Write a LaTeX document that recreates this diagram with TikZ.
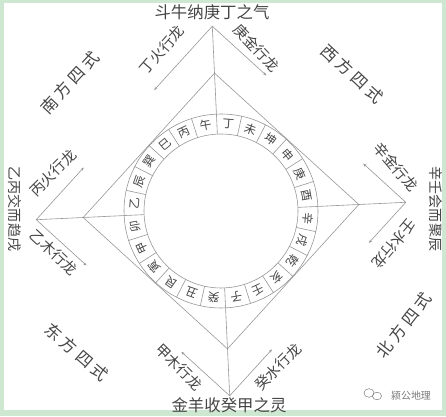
\documentclass[tikz,border=0pt]{standalone}
\usepackage{fontspec}
\newfontfamily\cjk{Noto Sans CJK SC}
\newfontfamily\cjkwide[LetterSpace=25]{Noto Sans CJK SC}
\usetikzlibrary{arrows.meta,%
                calc,positioning}
\definecolor{linegray}{RGB}{150,150,150}
\definecolor{inkgray}{RGB}{70,70,70}
\definecolor{markgray}{RGB}{120,120,120}
\definecolor{framegreen}{RGB}{206,231,208}

\begin{document}
\begin{tikzpicture}[x = 0.03cm, y = 0.03cm]
  \tikzset{LineStyle/.style    = {draw           = linegray,
                                  line width     = 0.5pt}}
  \tikzset{ArrowStyle/.style   = {LineStyle,
                                  -{Stealth[length = 3pt, width = 2.2pt]}}}
  \tikzset{RingStyle/.style    = {font           = \cjk\fontsize{10}{11}\selectfont,
                                  text           = inkgray,
                                  inner sep      = 0pt}}
  \tikzset{LabelStyle/.style   = {font           = \cjk\fontsize{12.5}{13}\selectfont,
                                  text           = inkgray,
                                  inner sep      = 1pt}}
  \tikzset{QuarterStyle/.style = {font           = \cjkwide\fontsize{14}{15}\selectfont,
                                  text           = inkgray,
                                  inner sep      = 1pt}}
  \tikzset{TitleStyle/.style   = {font           = \cjk\fontsize{14}{15}\selectfont,
                                  text           = inkgray,
                                  inner sep      = 1pt}}
  \tikzset{SideStyle/.style    = {font           = \cjk\fontsize{12}{13}\selectfont,
                                  text           = inkgray,
                                  inner sep      = 1pt}}
  \tikzset{MarkStyle/.style    = {font           = \cjk\fontsize{8.5}{9}\selectfont,
                                  text           = markgray,
                                  inner sep      = 0pt}}
  % frame
  \fill[framegreen] (0,0) rectangle (446,416);
  \fill[white] (4,6) rectangle (442,413);
  \useasboundingbox (0,0) rectangle (446,416);
  % compass, a little tilted
  \begin{scope}[shift = {(221,205)}, rotate = 2.7]
     \coordinate (O) at (0,0);
     \coordinate (Top)     at (90:185);
     \coordinate (Left)    at (180:185);
     \coordinate (Bottom)  at (270:185);
     \coordinate (Right)   at (0:185);
     \coordinate (iTop)    at (90:138);
     \coordinate (iLeft)   at (180:138);
     \coordinate (iBottom) at (270:138);
     \coordinate (iRight)  at (0:138);
     \coordinate (rTop)    at (90:97);
     \coordinate (rLeft)   at (180:97);
     \coordinate (rBottom) at (270:97);
     \coordinate (rRight)  at (0:97);
     \draw[LineStyle] (O) circle (97);
     \draw[LineStyle] (O) circle (77);
     \foreach \k in {0,...,23}
        \draw[LineStyle] (90+15*\k:77) -- (90+15*\k:97);
     \foreach \m [count = \i from 0] in {午,丙,巳,巽,辰,乙,卯,甲,寅,艮,丑,癸,%
                                         子,壬,亥,乾,戌,辛,酉,庚,申,坤,未,丁}{
        \pgfmathsetmacro{\ang}{97.5+15*\i}
        \node[RingStyle, rotate = \ang-87.3] (m\i) at (\ang:87) {\m};
     }
  \end{scope}
  % axes and inner square
  \draw[LineStyle] (Top) -- (rTop);
  \draw[LineStyle] (Bottom) -- (rBottom);
  \draw[LineStyle] (Left) -- (rLeft);
  \draw[LineStyle] (Right) -- (rRight);
  \draw[LineStyle] (iTop) -- (iRight) -- (iBottom) -- (iLeft) -- cycle;
  % dragons
  \coordinate (TopL)    at ($(Top)!0.33!(Left)$);
  \coordinate (TopR)    at ($(Top)!0.28!(Right)$);
  \coordinate (LeftT)   at ($(Left)!0.27!(Top)$);
  \coordinate (LeftB)   at ($(Left)!0.26!(Bottom)$);
  \coordinate (RightT)  at ($(Right)!0.22!(Top)$);
  \coordinate (RightB)  at ($(Right)!0.21!(Bottom)$);
  \coordinate (BottomL) at ($(Bottom)!0.25!(Left)$);
  \coordinate (BottomR) at ($(Bottom)!0.24!(Right)$);
  \draw[ArrowStyle] (Top) -- (TopL);
  \draw[ArrowStyle] (Top) -- (TopR);
  \draw[ArrowStyle] (Left) -- (LeftT);
  \draw[ArrowStyle] (Left) -- (LeftB);
  \draw[ArrowStyle] (Right) -- (RightT);
  \draw[ArrowStyle] (Right) -- (RightB);
  \draw[ArrowStyle] (Bottom) -- (BottomL);
  \draw[ArrowStyle] (Bottom) -- (BottomR);
  % texts
  \node[TitleStyle] (north) at (212,404) {斗牛纳庚丁之气};
  \node[TitleStyle] (south) at (229,11) {金羊收癸甲之灵};
  \node[SideStyle, rotate = -90] (west) at (15,207) {乙丙交而趋戌};
  \node[SideStyle, rotate = -90] (east) at (436,207) {辛壬会而聚辰};
  \node[LabelStyle, rotate = 49]  (dTop)  at (162,366) {丁火行龙};
  \node[LabelStyle, rotate = -47] (gTop)  at (257,368) {庚金行龙};
  \node[LabelStyle, rotate = 45]  (bLeft) at (53,243)  {丙火行龙};
  \node[LabelStyle, rotate = -43] (yLeft) at (54,164)  {乙木行龙};
  \node[LabelStyle, rotate = -50] (xRight) at (396,249) {辛金行龙};
  \node[LabelStyle, rotate = 230] (rRightL) at (394,172) {壬水行龙};
  \node[LabelStyle, rotate = -45] (jBottom) at (179,49) {甲木行龙};
  \node[LabelStyle, rotate = 45]  (kBottom) at (278,49) {癸水行龙};
  \node[QuarterStyle, rotate = 47]  (qSouth) at (70,333) {南方四式};
  \node[QuarterStyle, rotate = -43] (qWest)  at (352,342) {西方四式};
  \node[QuarterStyle, rotate = -41] (qEast)  at (77,64)  {东方四式};
  \node[QuarterStyle, rotate = 52]  (qNorth) at (404,91) {北方四式};
  % mark
  \draw[markgray, line width = 0.4pt] (369,23) ellipse (5 and 4.3);
  \draw[markgray, line width = 0.4pt] (377,20) ellipse (4.5 and 3.8);
  \node[MarkStyle] (mark) at (411,20) {颍公地理};
\end{tikzpicture}
\end{document}
